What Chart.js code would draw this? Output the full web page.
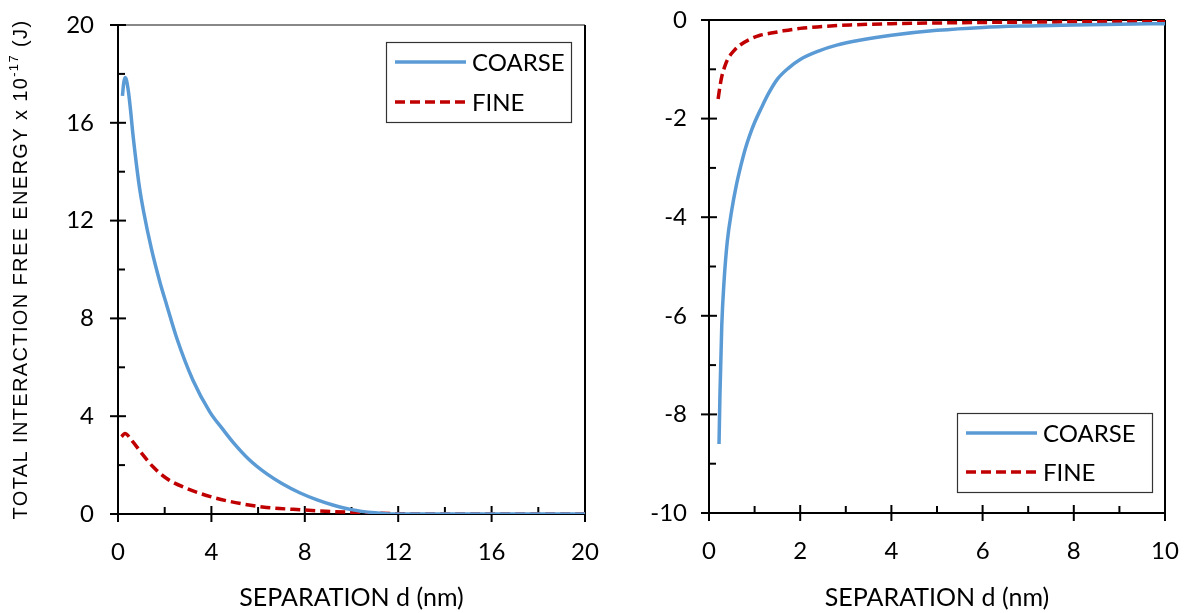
<!DOCTYPE html>
<html>
<head>
<meta charset="utf-8">
<script src="https://cdn.jsdelivr.net/npm/chart.js@4.4.1/dist/chart.umd.min.js"></script>
<style>
  html, body { margin: 0; padding: 0; background: #fff; }
  #wrap { position: relative; width: 1187px; height: 613px; overflow: hidden; }
  canvas { position: absolute; top: 0; }
</style>
</head>
<body>
<div id="wrap">
  <canvas id="left" width="600" height="613" style="left:0"></canvas>
  <canvas id="right" width="587" height="613" style="left:600px"></canvas>
</div>
<script>
// ---- Data ----
const seriesLabels = ['COARSE', 'FINE'];

// Left panel
const leftCoarseX = [0.19, 0.24, 0.3, 0.36, 0.45, 0.55, 0.62, 0.77, 0.92, 1.1, 1.43, 1.79, 2.1, 2.5, 3.21, 3.93, 4.5, 4.93, 5.6, 6.36, 7.0, 7.78, 8.5, 9.2, 10, 11, 11.8, 14, 17, 20];
const leftCoarseY = [17.1, 17.6, 17.85, 17.75, 17.25, 16.4, 15.7, 14.45, 13.35, 12.35, 10.85, 9.5, 8.5, 7.24, 5.47, 4.18, 3.45, 2.93, 2.24, 1.65, 1.26, 0.87, 0.59, 0.37, 0.18, 0.05, 0, 0, 0, 0];
const leftFineX = [0.15, 0.29, 0.64, 1.0, 1.5, 2.07, 2.93, 4.07, 5.35, 6.36, 7.5, 9.2, 11, 12, 14, 17, 20];
const leftFineY = [3.16, 3.29, 2.95, 2.5, 1.93, 1.46, 1.05, 0.68, 0.41, 0.27, 0.19, 0.1, 0.04, 0.01, 0, 0, 0];

// Right panel
const rightCoarseX = [0.22, 0.24, 0.28, 0.33, 0.4, 0.5, 0.6, 0.7, 0.8, 0.9, 1.0, 1.15, 1.3, 1.5, 1.75, 2.0, 2.4, 2.8, 3.3, 4, 5, 6, 7, 8, 9, 10];
const rightCoarseY = [-8.6, -7.6, -6.2, -5.3, -4.5, -3.85, -3.35, -2.95, -2.6, -2.32, -2.08, -1.78, -1.5, -1.2, -0.97, -0.8, -0.63, -0.51, -0.41, -0.31, -0.21, -0.15, -0.12, -0.1, -0.085, -0.075];
const rightFineX = [0.2, 0.24, 0.28, 0.35, 0.42, 0.55, 0.68, 0.9, 1.12, 1.4, 1.63, 2.0, 2.37, 3.1, 4, 5, 6, 7, 8, 9, 10];
const rightFineY = [-1.6, -1.35, -1.15, -0.93, -0.78, -0.62, -0.51, -0.39, -0.31, -0.26, -0.22, -0.17, -0.14, -0.1, -0.075, -0.06, -0.05, -0.042, -0.036, -0.032, -0.03];

// Axis ranges / tick steps
const leftXRange = [0, 20], leftXStep = 4;
const leftYRange = [0, 20], leftYStep = 4;
const rightXRange = [0, 10], rightXStep = 2;
const rightYRange = [-10, 0], rightYStep = 2;

const xTitle = 'SEPARATION d (nm)';
const yTitleParts = ['TOTAL INTERACTION FREE ENERGY x 10', '-17', ' (J)'];

// ---- Styles ----
const BLUE = '#5B9BD5';
const RED = '#C00000';
const TICK_FONT = { family: 'Lato, "Open Sans", sans-serif', size: 24 };
const TITLE_FONT = { family: 'Lato, "Open Sans", sans-serif', size: 25 };

function pts(xs, ys) { return xs.map((x, i) => ({ x: x, y: ys[i] })); }

function datasets(cx, cy, fx, fy) {
  return [
    { label: seriesLabels[0], data: pts(cx, cy), borderColor: BLUE, borderWidth: 3.5,
      pointRadius: 0, cubicInterpolationMode: 'monotone', fill: false },
    { label: seriesLabels[1], data: pts(fx, fy), borderColor: RED, borderWidth: 3.5,
      borderDash: [10, 5], pointRadius: 0, cubicInterpolationMode: 'monotone', fill: false }
  ];
}

// Plugin: axes, frame, major (crossing) & minor (inside) ticks, custom legend, y title
function framePlugin(cfg) {
  return {
    id: 'frame',
    beforeDatasetsDraw(chart) {
      const ctx = chart.ctx, a = chart.chartArea;
      const xs = chart.scales.x, ys = chart.scales.y;
      ctx.save();
      ctx.lineWidth = 2;
      ctx.strokeStyle = cfg.topColor;
      ctx.beginPath(); ctx.moveTo(a.left, a.top); ctx.lineTo(a.right, a.top); ctx.stroke();
      ctx.strokeStyle = '#000';
      ctx.beginPath(); ctx.moveTo(a.right, a.top); ctx.lineTo(a.right, a.bottom); ctx.stroke();
      ctx.beginPath(); ctx.moveTo(a.left, a.top); ctx.lineTo(a.left, a.bottom + 1); ctx.stroke();
      ctx.beginPath(); ctx.moveTo(a.left - 1, a.bottom); ctx.lineTo(a.right + 1, a.bottom); ctx.stroke();
      const xt = xs.ticks.map(t => t.value);
      xt.forEach((v, i) => {
        const px = xs.getPixelForValue(v);
        ctx.beginPath(); ctx.moveTo(px, a.bottom - 8); ctx.lineTo(px, a.bottom + 8); ctx.stroke();
        if (i < xt.length - 1) {
          const mx = xs.getPixelForValue((v + xt[i + 1]) / 2);
          ctx.beginPath(); ctx.moveTo(mx, a.bottom - 7); ctx.lineTo(mx, a.bottom); ctx.stroke();
        }
      });
      const yt = ys.ticks.map(t => t.value);
      yt.forEach((v, i) => {
        const py = ys.getPixelForValue(v);
        ctx.beginPath(); ctx.moveTo(a.left - 8, py); ctx.lineTo(a.left + 8, py); ctx.stroke();
        if (i < yt.length - 1) {
          const my = ys.getPixelForValue((v + yt[i + 1]) / 2);
          ctx.beginPath(); ctx.moveTo(a.left, my); ctx.lineTo(a.left + 7, my); ctx.stroke();
        }
      });
      ctx.restore();
    },
    afterDraw(chart) {
      const ctx = chart.ctx;
      ctx.save();
      const L = cfg.legend;
      ctx.fillStyle = '#fff';
      ctx.fillRect(L.x, L.y, L.w, L.h);
      ctx.strokeStyle = '#333';
      ctx.lineWidth = 1.2;
      ctx.strokeRect(L.x + 0.5, L.y + 0.5, L.w, L.h);
      chart.data.datasets.forEach((ds, i) => {
        const cy = L.y + L.row0 + i * L.rowGap;
        ctx.strokeStyle = ds.borderColor;
        ctx.lineWidth = ds.borderWidth;
        ctx.setLineDash(ds.borderDash || []);
        ctx.beginPath(); ctx.moveTo(L.x + 9, cy); ctx.lineTo(L.x + 80, cy); ctx.stroke();
        ctx.setLineDash([]);
        ctx.fillStyle = '#000';
        ctx.font = '24px Lato, "Open Sans", sans-serif';
        ctx.textBaseline = 'middle';
        ctx.textAlign = 'left';
        ctx.fillText(ds.label, L.x + 86, cy + 1);
      });
      if (cfg.yTitle) {
        const a = chart.chartArea;
        ctx.translate(cfg.yTitle.x, (a.top + a.bottom) / 2 + cfg.yTitle.dy);
        ctx.rotate(-Math.PI / 2);
        const big = '20px "Liberation Sans", Arial, sans-serif';
        const small = '13px "Liberation Sans", Arial, sans-serif';
        const nChars = (yTitleParts[0] + yTitleParts[1] + yTitleParts[2]).length;
        ctx.font = big;
        let w1 = ctx.measureText(yTitleParts[0]).width;
        let w3 = ctx.measureText(yTitleParts[2]).width;
        ctx.font = small;
        let w2 = ctx.measureText(yTitleParts[1]).width;
        const sp = Math.max(0, (cfg.yTitle.len - (w1 + w2 + w3)) / nChars);
        if ('letterSpacing' in ctx) {
          ctx.letterSpacing = sp.toFixed(2) + 'px';
          ctx.font = big;
          w1 = ctx.measureText(yTitleParts[0]).width;
          w3 = ctx.measureText(yTitleParts[2]).width;
          ctx.font = small;
          w2 = ctx.measureText(yTitleParts[1]).width;
        }
        const x0 = -(w1 + w2 + w3) / 2;
        ctx.fillStyle = '#000';
        ctx.textBaseline = 'middle';
        ctx.textAlign = 'left';
        ctx.font = big; ctx.fillText(yTitleParts[0], x0, 0);
        ctx.font = small; ctx.fillText(yTitleParts[1], x0 + w1, -7);
        ctx.font = big; ctx.fillText(yTitleParts[2], x0 + w1 + w2, 0);
      }
      ctx.restore();
    }
  };
}

function makeChart(id, ds, xr, xstep, yr, ystep, geom, cfg) {
  return new Chart(document.getElementById(id), {
    type: 'line',
    data: { datasets: ds },
    options: {
      responsive: false,
      animation: false,
      layout: { padding: { top: geom.top, right: geom.right, left: 0, bottom: 0 } },
      plugins: { legend: { display: false }, tooltip: { enabled: false } },
      scales: {
        x: {
          type: 'linear', min: xr[0], max: xr[1],
          ticks: { stepSize: xstep, color: '#000', font: TICK_FONT, padding: 24, maxRotation: 0 },
          grid: { display: false, drawTicks: false }, border: { display: false },
          title: { display: true, text: xTitle, color: '#000', font: TITLE_FONT, padding: { top: 4, bottom: 0 } },
          afterFit(s) { s.height = geom.xh; s.paddingLeft = 0; s.paddingRight = 0; s.paddingTop = 0; s.paddingBottom = 0; }
        },
        y: {
          type: 'linear', min: yr[0], max: yr[1],
          ticks: { stepSize: ystep, color: '#000', font: TICK_FONT, padding: geom.ypad },
          grid: { display: false, drawTicks: false }, border: { display: false },
          afterFit(s) { s.width = geom.yw; s.paddingLeft = 0; s.paddingRight = 0; s.paddingTop = 0; s.paddingBottom = 0; }
        }
      }
    },
    plugins: [framePlugin(cfg)]
  });
}

makeChart('left', datasets(leftCoarseX, leftCoarseY, leftFineX, leftFineY),
  leftXRange, leftXStep, leftYRange, leftYStep,
  { top: 25, right: 15, xh: 99, yw: 118, ypad: 24 },
  { topColor: '#888', legend: { x: 386, y: 42, w: 185, h: 80, row0: 20, rowGap: 40 }, yTitle: { x: 21, len: 500, dy: 0 } });

makeChart('right', datasets(rightCoarseX, rightCoarseY, rightFineX, rightFineY),
  rightXRange, rightXStep, rightYRange, rightYStep,
  { top: 20, right: 22, xh: 100, yw: 109, ypad: 22 },
  { topColor: '#000', legend: { x: 357, y: 413, w: 195, h: 79, row0: 20, rowGap: 39 }, yTitle: null });
</script>
</body>
</html>
